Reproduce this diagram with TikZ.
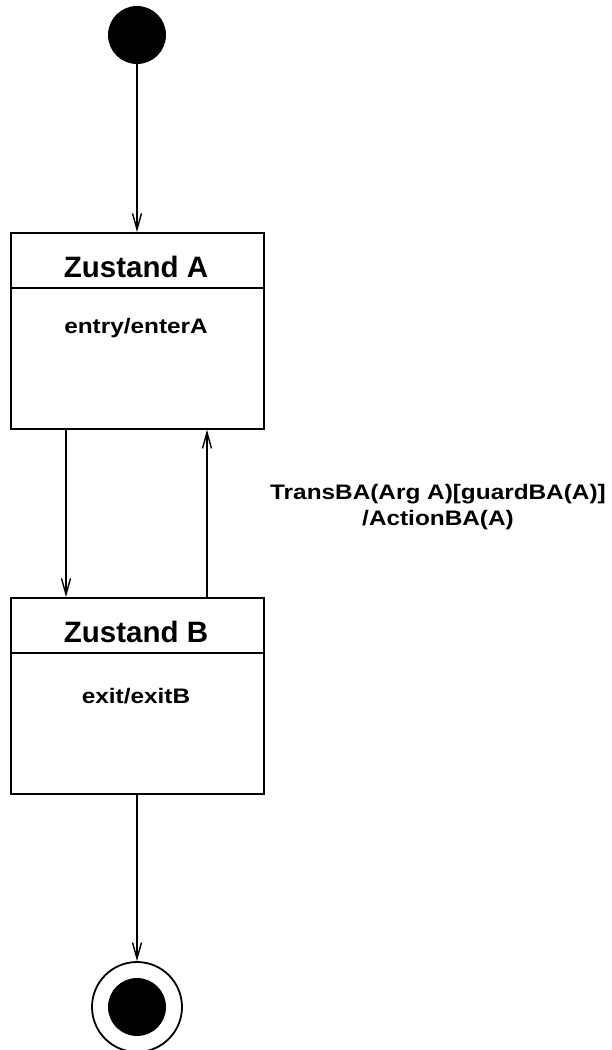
\documentclass[tikz,border=0pt]{standalone}
\usepackage{fontspec}
\setmainfont{Liberation Sans}
\newfontfamily\smallfnt{Liberation Sans}[FakeStretch=1.16]
\usetikzlibrary{arrows.meta}
\tikzset{
  conn/.style={line width=1.3pt, -{Straight Barb[length=16pt,width=9pt,line width=1.4pt]}},
  statebox/.style={draw, line width=1.8pt, rectangle, inner sep=0pt, minimum width=253pt, minimum height=196pt, anchor=north west},
  titletxt/.style={font=\fontsize{29.5}{34}\selectfont\bfseries, anchor=base, inner sep=0pt},
  smalltxt/.style={font=\smallfnt\fontsize{21}{26}\selectfont\bfseries, inner sep=0pt},
}
\begin{document}
\begin{tikzpicture}[x=1pt,y=-1pt]
\useasboundingbox (0,0) rectangle (612,1050);
% initial state
\node[circle, fill=black, minimum size=58pt, inner sep=0pt] (init) at (137,35) {};
% state A
\node[statebox] (A) at (10,232) {};
\draw[line width=1.8pt] (10,288) coordinate (adl) -- (263,288) coordinate (adr);
\node[titletxt] (Atitle) at (136,277) {Zustand A};
\node[smalltxt, anchor=base] (Aentry) at (136,333) {entry/enterA};
% state B
\node[statebox] (B) at (10,597) {};
\draw[line width=1.8pt] (10,653) coordinate (bdl) -- (263,653) coordinate (bdr);
\node[titletxt] (Btitle) at (136,642) {Zustand B};
\node[smalltxt, anchor=base] (Bexit) at (136,703) {exit/exitB};
% final state
\node[circle, draw, line width=1.8pt, minimum size=90pt, inner sep=0pt] (final) at (137,1007) {};
\node[circle, fill=black, minimum size=58pt, inner sep=0pt] (finalin) at (137,1007) {};
% connectors
\draw[conn] (init.south) -- (init.south |- A.north);
\coordinate (ab1) at (66,428);
\draw[conn] (ab1) -- (ab1 |- B.north);
\coordinate (ba1) at (207,597);
\draw[conn] (ba1) -- (ba1 |- A.south);
\draw[conn] (B.south -| final.north) -- (final.north);
% transition label
\node[smalltxt, align=center, anchor=base] (lbl) at (438,525) {TransBA(Arg A)[guardBA(A)]\\/ActionBA(A)};
\end{tikzpicture}
\end{document}
